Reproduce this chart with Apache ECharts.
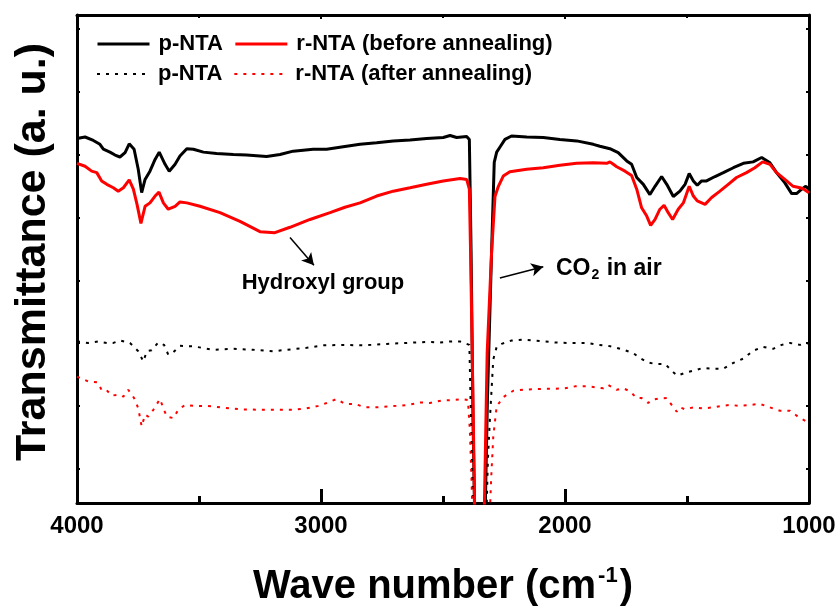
<!DOCTYPE html>
<html>
<head>
<meta charset="utf-8">
<script src="https://cdn.jsdelivr.net/npm/echarts@6/dist/echarts.min.js"></script>
<style>
  html, body { margin: 0; padding: 0; background: #fff; }
  #chart { width: 840px; height: 612px; }
</style>
</head>
<body>
<div id="chart"></div>
<script>
// FTIR spectra: [wave number (cm^-1), transmittance (a. u.)]
const pNtaBefore = [
  [4000,74.7],[3967,75.0],[3933,74.3],[3906,73.5],[3892,72.5],[3865,71.9],[3844,71.3],[3824,70.9],[3803,71.8],[3786,73.6],
  [3766,72.5],[3749,68.4],[3735,63.6],[3721,66.3],[3701,68.0],[3680,70.4],[3663,71.9],[3639,69.4],[3622,68.0],[3598,69.4],
  [3578,71.1],[3550,72.6],[3523,72.5],[3482,71.9],[3428,71.6],[3359,71.4],[3305,71.3],[3223,71.0],[3168,71.4],[3114,72.1],
  [3032,72.5],[2977,72.5],[2909,73.0],[2840,73.5],[2772,73.8],[2704,74.2],[2635,74.4],[2567,74.7],[2499,74.9],[2471,75.3],
  [2444,74.9],[2403,75.1],[2392,74.5],[2385,51.9],[2377,17.0],[2350,-60],[2318,21.1],[2301,51.3],[2290,69.8],[2280,71.9],
  [2267,72.9],[2246,74.5],[2219,75.2],[2157,75.0],[2089,74.9],[2021,74.5],[1952,74.2],[1884,73.5],[1857,73.1],[1816,72.6],
  [1782,71.8],[1747,70.1],[1727,69.4],[1706,66.7],[1679,65.3],[1652,63.2],[1631,64.9],[1604,66.9],[1583,65.3],[1556,62.8],
  [1529,63.9],[1508,65.3],[1491,67.5],[1474,66.0],[1458,65.1],[1440,66.0],[1420,66.0],[1385,66.9],[1351,67.7],[1310,68.7],
  [1269,69.6],[1229,69.9],[1194,70.8],[1160,69.7],[1133,67.7],[1099,65.6],[1071,63.4],[1051,63.4],[1030,64.3],[1013,64.9],
  [1000,64.3]
];
const rNtaBefore = [
  [4000,69.6],[3967,69.0],[3940,68.0],[3919,67.7],[3899,66.0],[3878,65.3],[3851,64.6],[3831,63.9],[3810,64.6],[3786,66.2],
  [3769,64.3],[3754,61.2],[3738,57.3],[3721,60.8],[3701,61.5],[3680,62.9],[3664,63.7],[3646,61.5],[3626,60.2],[3598,60.8],
  [3578,61.7],[3550,61.5],[3496,60.8],[3414,59.5],[3332,57.7],[3250,55.6],[3189,55.4],[3127,56.5],[3045,58.1],[2963,59.5],
  [2902,60.6],[2840,61.5],[2772,62.9],[2704,63.9],[2635,64.6],[2567,65.3],[2499,66.0],[2430,66.5],[2403,66.3],[2392,64.3],
  [2387,51.3],[2378,23.8],[2352,-60],[2319,30.8],[2301,51.3],[2287,62.8],[2273,64.9],[2253,67.0],[2226,67.9],[2157,68.4],
  [2089,68.7],[2021,69.2],[1952,69.6],[1884,69.7],[1829,69.6],[1816,69.9],[1802,69.4],[1788,68.9],[1754,68.0],[1727,67.1],
  [1706,64.3],[1686,60.5],[1665,58.8],[1649,56.9],[1631,58.1],[1611,60.2],[1594,61.0],[1577,59.5],[1559,58.1],[1536,60.2],
  [1515,61.5],[1491,64.9],[1474,62.9],[1458,61.9],[1426,61.2],[1399,62.6],[1365,63.9],[1331,65.3],[1297,66.7],[1256,67.7],
  [1222,68.7],[1190,69.9],[1160,69.4],[1133,67.7],[1099,66.3],[1065,64.9],[1037,64.6],[1024,64.4],[1000,63.6]
];
const pNtaAfter = [
  [4000,33.1],[3954,32.8],[3913,33.1],[3878,32.8],[3851,32.8],[3824,33.3],[3783,32.8],[3749,31.1],[3728,29.0],[3714,31.1],
  [3694,31.3],[3667,32.9],[3643,32.4],[3626,30.4],[3605,30.9],[3578,32.2],[3523,32.1],[3441,31.4],[3359,31.6],[3278,31.4],
  [3196,31.1],[3141,31.4],[3059,31.8],[2991,32.3],[2909,32.4],[2827,32.3],[2731,32.6],[2649,32.8],[2567,33.0],[2512,32.9],
  [2471,33.1],[2430,33.1],[2392,32.4],[2387,21.1],[2381,8.8],[2352,-60],[2316,8.8],[2308,17.0],[2294,29.4],[2280,32.0],
  [2260,32.6],[2219,33.3],[2171,33.5],[2130,33.3],[2082,33.1],[2041,32.9],[1993,32.8],[1911,32.8],[1864,32.4],[1823,32.2],
  [1788,31.8],[1754,31.3],[1720,30.7],[1693,29.7],[1659,28.8],[1631,28.5],[1590,28.5],[1556,26.8],[1540,26.1],[1501,26.8],
  [1467,27.2],[1433,27.7],[1392,27.5],[1351,27.5],[1310,28.7],[1269,29.6],[1229,31.2],[1188,32.0],[1147,31.6],[1112,32.4],
  [1078,32.8],[1037,32.4],[1010,32.8],[1000,32.6]
];
const rNtaAfter = [
  [4000,25.9],[3954,24.9],[3913,24.7],[3899,23.1],[3878,23.1],[3858,22.0],[3831,22.2],[3810,21.8],[3790,23.2],[3766,21.5],
  [3749,19.4],[3735,15.7],[3721,18.1],[3708,17.7],[3687,19.1],[3660,21.3],[3646,19.4],[3632,17.7],[3605,17.4],[3585,19.1],
  [3557,20.1],[3523,19.9],[3468,19.9],[3414,19.6],[3332,19.2],[3250,19.1],[3182,19.1],[3114,19.1],[3059,19.4],[3011,19.9],
  [2977,20.5],[2936,21.3],[2902,20.3],[2861,20.3],[2820,19.6],[2772,19.6],[2717,19.8],[2642,20.1],[2594,20.6],[2553,20.5],
  [2505,21.0],[2458,21.1],[2424,21.3],[2398,21.1],[2390,15.0],[2383,4.7],[2350,-60],[2303,4.7],[2294,13.6],[2280,19.8],
  [2253,21.7],[2212,23.0],[2171,23.2],[2130,23.3],[2089,23.4],[2041,23.4],[2000,23.5],[1959,23.9],[1911,23.9],[1870,23.7],
  [1843,23.5],[1823,24.2],[1788,23.2],[1761,23.5],[1734,22.9],[1706,21.5],[1686,21.5],[1659,20.5],[1645,21.1],[1618,21.4],
  [1583,21.5],[1563,20.1],[1542,18.7],[1529,19.6],[1508,19.2],[1474,19.6],[1433,19.4],[1392,19.6],[1358,19.9],[1324,20.1],
  [1283,19.9],[1242,20.1],[1201,20.3],[1160,19.6],[1119,18.9],[1078,18.9],[1037,17.4],[1010,16.7],[1000,16.4]
];

const seriesNames = ['p-NTA (before annealing)', 'r-NTA (before annealing)', 'p-NTA (after annealing)', 'r-NTA (after annealing)'];
const waveTicks = [1000, 2000, 3000, 4000];
const transmittanceTicks = [7.0, 19.9, 32.8, 45.6, 58.5, 71.4, 84.3, 97.1];

// annotation anchors in data space
const hydroxylArrow = [[3127, 54.4], [3029, 48.7]];
const co2Arrow = [[2267, 46.1], [2089, 48.4]];
const hydroxylLabel = [2992, 45.0];
const co2Label = [2037, 48.0];

const FONT = 'Arial, "Liberation Sans", Helvetica, sans-serif';

const chart = echarts.init(document.getElementById('chart'), null, { renderer: 'canvas' });

function legendFormatter(name) {
  return name.indexOf('p-NTA') === 0 ? 'p-NTA' : name;
}

const legendBase = {
  orient: 'horizontal',
  left: 96,
  itemWidth: 52,
  itemHeight: 14,
  itemGap: 11,
  padding: 0,
  selectedMode: false,
  formatter: legendFormatter,
  itemStyle: { opacity: 0, borderWidth: 0 },
  textStyle: { fontSize: 22, fontWeight: 'bold', color: '#000', fontFamily: FONT, padding: [0, 0, 0, 4] }
};

const option = {
  animation: false,
  backgroundColor: '#fff',
  grid: { left: 77, right: 31, top: 15, bottom: 109, containLabel: false },
  legend: [
    Object.assign({}, legendBase, { data: [seriesNames[0], seriesNames[1]], top: 33, lineStyle: { width: 3 } }),
    Object.assign({}, legendBase, { data: [seriesNames[2], seriesNames[3]], top: 63, lineStyle: { width: 2 } })
  ],
  xAxis: [
    {
      type: 'value', position: 'bottom', min: 1000, max: 4000, interval: 1000, inverse: true,
      axisLine: { show: true, onZero: false, lineStyle: { color: '#000', width: 3 } },
      axisTick: { show: true, inside: true, length: 14, lineStyle: { color: '#000', width: 3 } },
      minorTick: { show: true, splitNumber: 2, length: 7, lineStyle: { color: '#000', width: 3 } },
      axisLabel: {
        show: true, margin: 11, fontSize: 24, fontWeight: 'bold', color: '#000', fontFamily: FONT,
        formatter: v => waveTicks.indexOf(v) >= 0 ? String(v) : ''
      },
      splitLine: { show: false },
      name: '{a|Wave number (cm}{s|-1}{a|)}',
      nameLocation: 'middle',
      nameGap: 62,
      nameTextStyle: {
        rich: {
          a: { fontSize: 40, fontWeight: 'bold', color: '#000', fontFamily: FONT, lineHeight: 44 },
          s: { fontSize: 22, fontWeight: 'bold', color: '#000', fontFamily: FONT, verticalAlign: 'top', lineHeight: 44, padding: [0, 2, 18, 2] }
        }
      }
    },
    {
      type: 'value', position: 'top', min: 1000, max: 4000, interval: 1000, inverse: true,
      axisLine: { show: true, onZero: false, lineStyle: { color: '#000', width: 3 } },
      axisTick: { show: true, inside: true, length: 4, lineStyle: { color: '#000', width: 2 } },
      minorTick: { show: true, splitNumber: 2, length: 3, lineStyle: { color: '#000', width: 2 } },
      axisLabel: { show: false },
      splitLine: { show: false }
    }
  ],
  yAxis: [
    {
      type: 'value', position: 'left', min: 0, max: 100,
      axisLine: { show: true, onZero: false, lineStyle: { color: '#000', width: 3 } },
      axisTick: { show: true, inside: true, length: 3, customValues: transmittanceTicks, lineStyle: { color: '#000', width: 2 } },
      axisLabel: { show: false },
      splitLine: { show: false },
      name: 'Transmittance (a. u.)',
      nameLocation: 'middle',
      nameRotate: 90,
      nameGap: 22,
      nameTextStyle: { fontSize: 43, fontWeight: 'bold', color: '#000', fontFamily: FONT, padding: [0, 0, 0, 14] }
    },
    {
      type: 'value', position: 'right', min: 0, max: 100,
      axisLine: { show: true, onZero: false, lineStyle: { color: '#000', width: 3 } },
      axisTick: { show: true, inside: true, length: 3, customValues: transmittanceTicks, lineStyle: { color: '#000', width: 2 } },
      axisLabel: { show: false },
      splitLine: { show: false }
    }
  ],
  series: [
    {
      name: seriesNames[0], type: 'line', data: pNtaBefore, symbol: 'none', clip: true, silent: true,
      color: '#000', lineStyle: { color: '#000', width: 3, type: 'solid' }, z: 2
    },
    {
      name: seriesNames[1], type: 'line', data: rNtaBefore, symbol: 'none', clip: true, silent: true,
      color: '#ff0000', lineStyle: { color: '#ff0000', width: 3, type: 'solid' }, z: 3,
      markLine: {
        silent: true, symbol: ['none', 'arrow'], symbolSize: [10, 12],
        label: { show: false },
        lineStyle: { color: '#000', width: 1.5, type: 'solid' },
        emphasis: { disabled: true },
        data: [
          [{ coord: hydroxylArrow[0] }, { coord: hydroxylArrow[1] }],
          [{ coord: co2Arrow[0] }, { coord: co2Arrow[1] }]
        ]
      },
      markPoint: {
        silent: true, symbol: 'circle', symbolSize: 0,
        itemStyle: { color: 'rgba(0,0,0,0)' },
        data: [
          {
            coord: hydroxylLabel,
            label: { show: true, position: 'inside', formatter: 'Hydroxyl group', fontSize: 22, fontWeight: 'bold', color: '#000', fontFamily: FONT }
          },
          {
            coord: co2Label,
            label: {
              show: true, position: 'right', distance: 0, formatter: '{a|CO}{b|2}{a| in air}',
              rich: {
                a: { fontSize: 23, fontWeight: 'bold', color: '#000', fontFamily: FONT, lineHeight: 26 },
                b: { fontSize: 14, fontWeight: 'bold', color: '#000', fontFamily: FONT, verticalAlign: 'bottom', lineHeight: 26, padding: [10, 1, 0, 1] }
              }
            }
          }
        ]
      }
    },
    {
      name: seriesNames[2], type: 'line', data: pNtaAfter, symbol: 'none', clip: true, silent: true,
      color: '#000', lineStyle: { color: '#000', width: 2, type: [3, 6] }, z: 4
    },
    {
      name: seriesNames[3], type: 'line', data: rNtaAfter, symbol: 'none', clip: true, silent: true,
      color: '#ff0000', lineStyle: { color: '#ff0000', width: 2, type: [3, 6] }, z: 5
    }
  ]
};

chart.setOption(option);
</script>
</body>
</html>
